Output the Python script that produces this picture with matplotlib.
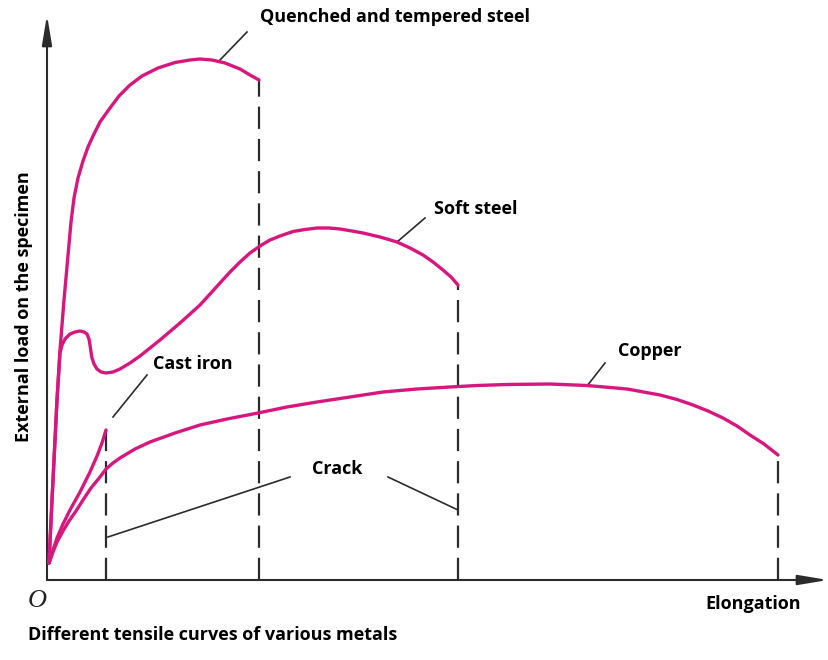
import matplotlib
matplotlib.use("Agg")
import matplotlib.pyplot as plt
from matplotlib import font_manager

# data: elongation (x) vs load (y), arbitrary units
quenched_x = [2, 5, 7.5, 10, 13, 17, 21.5, 24, 27, 31, 36, 41, 46, 53, 63, 72, 83, 95, 111,
              128, 143, 153, 165, 178, 193, 203, 212]
quenched_y = [17, 80, 130, 180, 230, 280, 330, 358, 382, 402, 419, 433, 444, 458, 472, 484,
              495, 504, 512, 517.5, 520, 521, 520, 517, 511, 505, 500]

soft_x = [2, 5, 7.5, 10, 13, 15, 18, 23, 28, 33, 37, 40, 42, 43, 44, 45, 47, 50, 54, 59, 66,
          73, 83, 93, 113, 133, 153, 173, 183, 193, 203, 213, 223, 233, 246, 258, 270, 282,
          293, 305, 316, 333, 350, 363, 376, 386, 396, 404, 411]
soft_y = [17, 80, 130, 180, 227, 235, 241, 246, 248, 249, 248, 246, 241, 235, 228, 222, 216,
          211, 208, 207, 208, 211, 217, 224, 240, 257, 275, 297, 308, 318, 327, 334, 340, 344,
          348.5, 350.5, 352, 352, 351, 349, 347, 343, 338, 332, 325, 318, 310, 303, 295]

cast_x = [2, 6, 10, 16, 23, 28, 33, 38, 43, 50, 55, 59]
cast_y = [17, 30, 42, 56, 70, 79, 88, 98, 108, 124, 137, 150]

copper_x = [2, 6, 10, 16, 22, 29, 36, 44, 53, 59, 66, 73, 88, 103, 128, 153, 180, 211, 240,
            270, 303, 336, 370, 403, 430, 460, 503, 540, 580, 613, 630, 646, 661, 676, 690,
            703, 717, 731]
copper_y = [17, 28, 38, 49, 59, 69, 80, 92, 103, 111, 117, 122, 131, 138, 147, 155, 161, 167,
            173, 178, 183, 188, 191, 193, 194.5, 195.5, 196, 194.5, 191, 185, 180.5, 175, 169,
            162, 154, 145, 136, 125]

curves = [(quenched_x, quenched_y), (soft_x, soft_y), (cast_x, cast_y), (copper_x, copper_y)]

MAGENTA = "#d8177e"
DARK = "#2b2b2b"


def pick_bold_family(names):
    for name in names:
        for f in font_manager.fontManager.ttflist:
            w = f.weight if isinstance(f.weight, int) else {"bold": 700}.get(f.weight, 400)
            if f.name == name and w >= 700:
                return name
    return "DejaVu Sans"


fam = pick_bold_family(["Open Sans", "Noto Sans", "Lato", "Roboto", "Liberation Sans"])
BOLD = dict(family=[fam, "DejaVu Sans"], fontweight="bold", fontsize=13, color="black")

fig = plt.figure(figsize=(8.29, 6.60), dpi=100)
ax = fig.add_axes([47 / 829, 80 / 660, 782 / 829, 580 / 660])
ax.set_xlim(0, 782)
ax.set_ylim(0, 580)
ax.axis("off")

# axes with arrows
arrow = dict(arrowstyle="-|>,head_length=1.8,head_width=0.3", color=DARK, lw=1.5,
             mutation_scale=10, shrinkA=0, shrinkB=0)
ax.annotate("", xy=(781, 0), xytext=(0, 0), arrowprops=arrow, annotation_clip=False)
ax.annotate("", xy=(0, 565), xytext=(0, 0), arrowprops=arrow, annotation_clip=False)

# fracture lines
for cx, cy in curves:
    ax.plot([cx[-1], cx[-1]], [0, cy[-1]], color=DARK, lw=1.6, linestyle=(0, (10, 4.5)),
            zorder=2)

for cx, cy in curves:
    ax.plot(cx, cy, color=MAGENTA, lw=2.4, solid_joinstyle="round", solid_capstyle="round",
            zorder=3)

# leader lines
leaders = [((173, 200), (520, 548)), ((350, 378), (338, 362)), ((540, 558), (194, 217)),
           ((66, 100), (163, 205)), ((61, 243), (43, 103)), ((341, 411), (103, 70))]
for lx, ly in leaders:
    ax.plot(lx, ly, color=DARK, lw=1.2, zorder=2)

ax.text(213, 563, "Quenched and tempered steel", ha="left", va="center", **BOLD)
ax.text(387, 371, "Soft steel", ha="left", va="center", **BOLD)
ax.text(106, 216, "Cast iron", ha="left", va="center", **BOLD)
ax.text(571, 229, "Copper", ha="left", va="center", **BOLD)
ax.text(265, 111, "Crack", ha="left", va="center", **BOLD)
ax.text(658, -24, "Elongation", ha="left", va="center", clip_on=False, **BOLD)
ax.text(-10, -21, "O", ha="center", va="center", fontsize=19, style="italic",
        family="Liberation Serif", color="#222222", clip_on=False)

fig.text(24 / 829, 1 - 307 / 660, "External load on the specimen", rotation=90,
         ha="center", va="center", **BOLD)
fig.text(28 / 829, 1 - 635 / 660, "Different tensile curves of various metals",
         ha="left", va="center", **BOLD)

fig.savefig("out.png", dpi=100)
